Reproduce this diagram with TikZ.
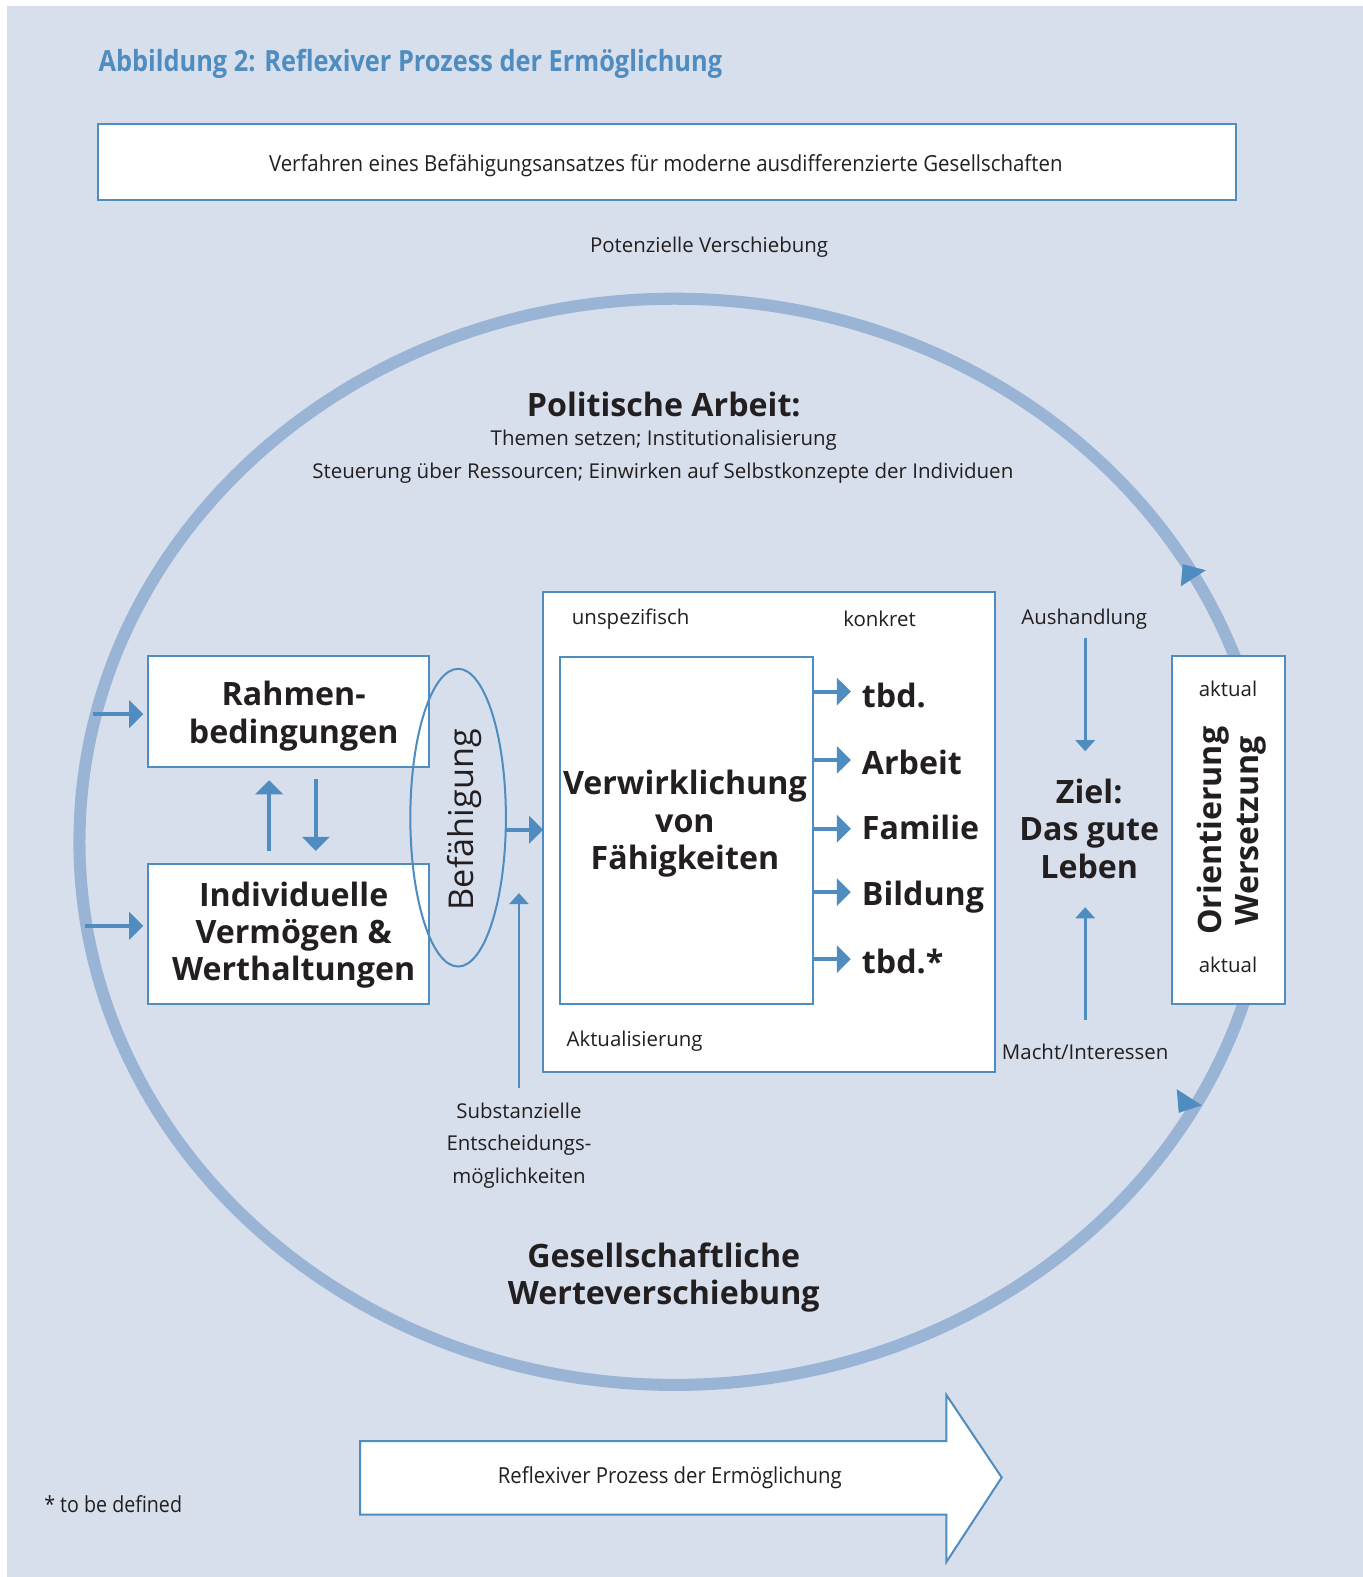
\documentclass[tikz,border=0pt]{standalone}
\usepackage{fontspec}
\setmainfont{Open Sans}
\usetikzlibrary{arrows.meta,shapes.geometric}
\definecolor{bgc}{HTML}{D7DFEC}
\definecolor{ringc}{HTML}{9AB4D6}
\definecolor{blu}{HTML}{4F8CC0}
\definecolor{txt}{HTML}{231F20}
\newcommand{\fitw}[2]{\resizebox{#1pt}{\height}{#2}}
\begin{document}
\begin{tikzpicture}[x=1pt,y=-1pt,
  every node/.style={inner sep=0pt, outer sep=0pt, text=txt},
  sm/.style={font=\fontsize{20.3}{32}\selectfont, align=center},
  bigt/.style={font=\fontsize{32}{37}\selectfont\bfseries, align=center},
  wbox/.style={draw=blu, line width=2, fill=white},
  thk/.style={draw=blu, line width=4, -{Triangle[length=14pt,width=27pt]}},
  thn/.style={draw=blu, line width=2.6, -{Triangle[length=11pt,width=19pt]}},
]
\useasboundingbox (0,0) rectangle (1355,1568);
\fill[bgc] (7,6) rectangle (1355,1568);

% title
\node[anchor=west, text=blu] (title) at (98,63) {\fitw{620}{\fontsize{29}{33}\selectfont\bfseries Abbildung 2: Reflexiver Prozess der Ermöglichung}};

% top box
\node[wbox, minimum width=1132, minimum height=75] (top) at (663,161) {};
\node (toptext) at (662,165) {\fitw{789}{\fontsize{22}{26}\selectfont Verfahren eines Befähigungsansatzes für moderne ausdifferenzierte Gesellschaften}};
\node[sm] (pot) at (705,246) {Potenzielle Verschiebung};

% ring
\draw[ringc, line width=12] (671,837) ellipse [x radius=592, y radius=540];
\fill[blu] (1176,561) -- (1199,567) -- (1174,583) -- cycle;
\fill[blu] (1170,1083) -- (1195,1099) -- (1172,1106.5) -- cycle;

% politische arbeit
\node[bigt] (pol) at (660,402) {Politische Arbeit:};
\node[sm] (them) at (660,438) {Themen setzen; Institutionalisierung};
\node[sm] (steu) at (659,470) {\fitw{697}{Steuerung über Ressourcen; Einwirken auf Selbstkonzepte der Individuen}};

% left boxes
\node[wbox, minimum width=279, minimum height=110.5] (rb) at (287,707.5) {};
\node[bigt] (rbt) at (292,712) {Rahmen-\\bedingungen};
\node[wbox, minimum width=279, minimum height=139] (iv) at (287,928.5) {};
\node[bigt] (ivt) at (292,930) {Individuelle\\Vermögen \&\\Werthaltungen};

\coordinate (a1) at (92.5,710);
\coordinate (a2) at (84.5,920.6);
\draw[thk, shorten >=5] (a1) -- (a1 -| rb.west);
\draw[thk, shorten >=5] (a2) -- (a2 -| iv.west);
\draw[thk, shorten <=13, shorten >=13] ([xshift=-19.5pt]iv.north) -- ([xshift=-19.5pt]rb.south);
\draw[thk, shorten <=12, shorten >=13] ([xshift=27pt]rb.south) -- ([xshift=27pt]iv.north);

% Befaehigung
\node[draw=blu, line width=2, ellipse, minimum width=95, minimum height=296] (bef) at (455.5,813) {};
\node[font=\fontsize{34}{36}\selectfont, rotate=90] (beft) at (462,815) {Befähigung};

% big box
\node[wbox, minimum width=449, minimum height=478] (big) at (764.6,827.3) {};
\node[wbox, minimum width=252, minimum height=345.6] (vw) at (682.6,825.6) {};
\draw[thk] ([yshift=-12pt]bef.east) -- ([yshift=-12pt]bef.east -| big.west);

\node[sm] (unsp) at (627,616) {unspezifisch};
\node[sm] (konk) at (874.5,615) {konkret};
\node[sm] (akt) at (631,1035) {Aktualisierung};
\node[bigt] (vwt) at (681,819) {Verwirklichung\\von\\Fähigkeiten};

\coordinate (t1) at (846,687.6);
\coordinate (t2) at (846,755.6);
\coordinate (t3) at (846,824);
\coordinate (t4) at (846,887);
\coordinate (t5) at (846,953.6);
\foreach \t in {t1,t2,t3,t4,t5} { \draw[thk] (vw.east |- \t) -- (\t); }
\node[bigt, anchor=base west] (i1) at (857,703) {tbd.};
\node[bigt, anchor=base west] (i2) at (857,769.6) {Arbeit};
\node[bigt, anchor=base west] (i3) at (857,835) {Familie};
\node[bigt, anchor=base west] (i4) at (857,900.7) {Bildung};
\node[bigt, anchor=base west] (i5) at (857,967.5) {tbd.*};

% substanzielle
\coordinate (s0) at (516,1082);
\coordinate (s1) at (516,888);
\draw[thn] (s0) -- (s1);
\node[sm] (sub) at (516,1139) {Substanzielle\\Entscheidungs-\\möglichkeiten};

% right part
\node[sm] (aush) at (1078,616) {Aushandlung};
\coordinate (h0) at (1079,634);
\coordinate (h1) at (1079,747);
\draw[thn] (h0) -- (h1);
\node[bigt] (ziel) at (1083,824) {Ziel:\\Das gute\\Leben};
\coordinate (m0) at (1079,1014);
\coordinate (m1) at (1079,902);
\draw[thn] (m0) -- (m1);
\node[sm] (macht) at (1079,1046) {Macht/Interessen};

\node[wbox, minimum width=112.5, minimum height=346] (ow) at (1221.25,825) {};
\node[sm] (ak1) at (1221,685) {aktual};
\node[sm] (ak2) at (1221,959.5) {aktual};
\node[bigt, rotate=90] (owt) at (1224.5,826) {Orientierung\\Wersetzung};

% bottom
\node[bigt] (ges) at (660,1270) {Gesellschaftliche\\Werteverschiebung};
\draw[blu, line width=2, fill=white] (358,1433) -- (941,1433) -- (941,1387) -- (996,1469) -- (941,1553) -- (941,1506) -- (358,1506) -- cycle;
\node (reft) at (666,1469) {\fitw{342}{\fontsize{22}{26}\selectfont Reflexiver Prozess der Ermöglichung}};
\node[anchor=west] (fn) at (44,1496) {\fitw{137}{\fontsize{22}{26}\selectfont * to be defined}};
\end{tikzpicture}
\end{document}
